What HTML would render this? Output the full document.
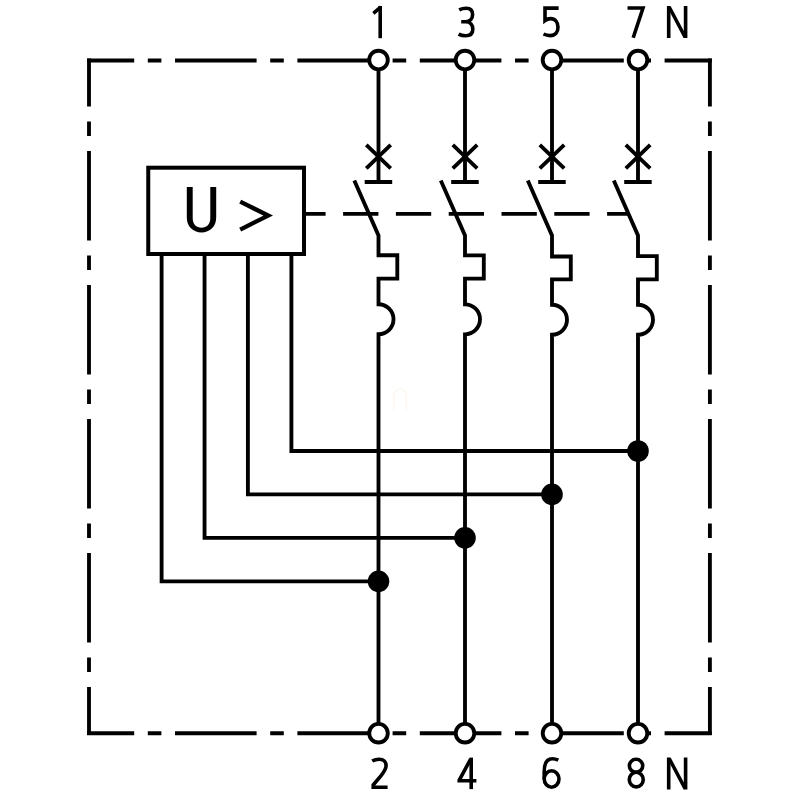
<!DOCTYPE html>
<html><head><meta charset="utf-8"><style>
html,body{margin:0;padding:0;background:#fff;width:800px;height:800px;overflow:hidden}
svg{display:block}
</style></head><body>
<svg width="800" height="800" viewBox="0 0 800 800">
<rect width="800" height="800" fill="#fff"/>
<g fill="none" stroke="#000" stroke-width="3.85" stroke-linecap="butt" stroke-linejoin="miter">
<path d="M87.08 60.5H711.82M87.08 733.2H711.82" stroke-dasharray="81.6 13.6 13.6 13.6" stroke-dashoffset="34.48"/>
<path d="M89.0 58.58V735.12M709.9 58.58V735.12" stroke-dasharray="89.5 15 14.5 15" stroke-dashoffset="41.58"/>
<path d="M304.0 213.8H628.5" stroke-dasharray="35.3 17.5" stroke-dashoffset="13.70"/>
<path d="M378.5 60.0V182M364.70 182H392.20"/>
<path d="M366.30 144.8L390.70 168.4M390.70 144.8L366.30 168.4"/>
<path d="M465.0 60.0V182M451.20 182H478.70"/>
<path d="M452.80 144.8L477.20 168.4M477.20 144.8L452.80 168.4"/>
<path d="M552.0 60.0V182M538.20 182H565.70"/>
<path d="M539.80 144.8L564.20 168.4M564.20 144.8L539.80 168.4"/>
<path d="M638.0 60.0V182M624.20 182H651.70"/>
<path d="M625.80 144.8L650.20 168.4M650.20 144.8L625.80 168.4"/>
<path d="M354.30 180.5L378.5 235.5V255.2H397.30V278.6H378.5V304.2A15 15 0 0 1 378.5 334.2V733.2" stroke-linejoin="miter"/>
<path d="M440.80 180.5L465.0 235.5V255.4H483.80V278.6H465.0V304.3A15 15 0 0 1 465.0 334.3V733.2" stroke-linejoin="miter"/>
<path d="M527.80 180.5L552.0 235.5V256.5H570.80V279.4H552.0V304.7A15 15 0 0 1 552.0 334.7V733.2" stroke-linejoin="miter"/>
<path d="M613.80 180.5L638.0 235.5V256.1H656.80V279.4H638.0V304.7A15 15 0 0 1 638.0 334.7V733.2" stroke-linejoin="miter"/>
<path d="M161.6 254V581.3H378.5"/>
<path d="M204.55 254V537.8H465.0"/>
<path d="M247.9 254V494.4H552.0"/>
<path d="M291.4 254V451.0H638.0"/>
<circle cx="378.5" cy="581.3" r="10.8" fill="#000" stroke="none"/>
<circle cx="465.0" cy="537.8" r="10.8" fill="#000" stroke="none"/>
<circle cx="552.0" cy="494.4" r="10.8" fill="#000" stroke="none"/>
<circle cx="638.0" cy="451.0" r="10.8" fill="#000" stroke="none"/>
<rect x="148.25" y="167.7" width="155.75" height="86.3" fill="#fff" stroke-width="4"/>
<path d="M186.8 186.9V217.5C186.8 226.6 193 232.4 201.5 232.4C210 232.4 216.2 226.6 216.2 217.5V186.9H210.3V218C210.3 224.3 206.8 227.7 201.5 227.7C196.2 227.7 192.7 224.3 192.7 218V186.9Z" fill="#000" stroke="none"/>
<path d="M240.2 201.6L268.2 215.6L240.2 229.6" stroke-width="4.3" stroke-linejoin="miter" stroke-miterlimit="10"/>
<path d="M394 410V395.5A6.2 6.2 0 0 1 406.4 395.5V410" stroke="#fdf7f2" stroke-width="1.6"/>
<circle cx="378.5" cy="60.0" r="9.3" fill="#fff"/>
<circle cx="378.5" cy="733.2" r="9.3" fill="#fff"/>
<circle cx="465.0" cy="60.0" r="9.3" fill="#fff"/>
<circle cx="465.0" cy="733.2" r="9.3" fill="#fff"/>
<circle cx="552.0" cy="60.0" r="9.3" fill="#fff"/>
<circle cx="552.0" cy="733.2" r="9.3" fill="#fff"/>
<circle cx="638.0" cy="60.0" r="9.3" fill="#fff"/>
<circle cx="638.0" cy="733.2" r="9.3" fill="#fff"/>
</g>
<g fill="none" stroke="#000" stroke-width="3.6" stroke-linecap="butt" stroke-linejoin="round">
<path d="M380.2 6V38.2"/>
<path d="M380.6 7.2L373.4 13.4"/>
<path d="M459.2 9.8C461.5 8.6 464 8.2 466.3 8.2C470.4 8.2 472.6 10.6 472.6 14.6C472.6 18.9 469.9 21.7 465.6 21.7H461.2M465.6 21.7C470.5 21.7 472.8 25 472.8 29.2C472.8 33.6 469.8 35.8 465.4 35.8C463 35.8 460.6 35.2 458.6 34.1"/>
<path d="M558.6 8.1H545V20.6C546.8 19.2 548.6 18.6 550.6 18.6C555.2 18.6 558 22.2 558 27.3C558 32.6 554.9 35.6 550.3 35.6C547.9 35.6 545.5 35 543.5 34" stroke-linejoin="miter"/>
<path d="M627.5 8H643L633.2 37.8" stroke-linejoin="miter"/>
<path d="M668.7 6.1V38M685.6 6.1V38"/>
<path d="M669.2 7L685.1 37.1" stroke-width="3.5"/>
<path d="M668.7 757.6V789.5M685.6 757.6V789.5"/>
<path d="M669.2 758.5L685.1 788.6" stroke-width="3.5"/>
<path d="M372.2 761C374.2 759.8 376.7 759.2 379.2 759.2C383.6 759.2 386.1 761.8 386.1 765.6C386.1 769.2 384.2 771.8 381.3 775.3L373.2 785V787.2H387.6" stroke-linejoin="miter"/>
<path d="M471.2 757.6V789.1"/>
<path d="M470.6 759.2L459.2 780.3V780.7H476.4" stroke-linejoin="miter"/>
<path d="M558.3 760.2C556.4 759.2 554.3 758.7 552.3 758.7C546.7 758.7 544.2 763.5 544.2 772V779"/>
<ellipse cx="551.6" cy="779" rx="7.4" ry="8.2"/>
<ellipse cx="636.05" cy="765.8" rx="6.7" ry="6.5"/>
<ellipse cx="636.25" cy="779.6" rx="7.0" ry="7.3"/>
</g>
</svg>
</body></html>
